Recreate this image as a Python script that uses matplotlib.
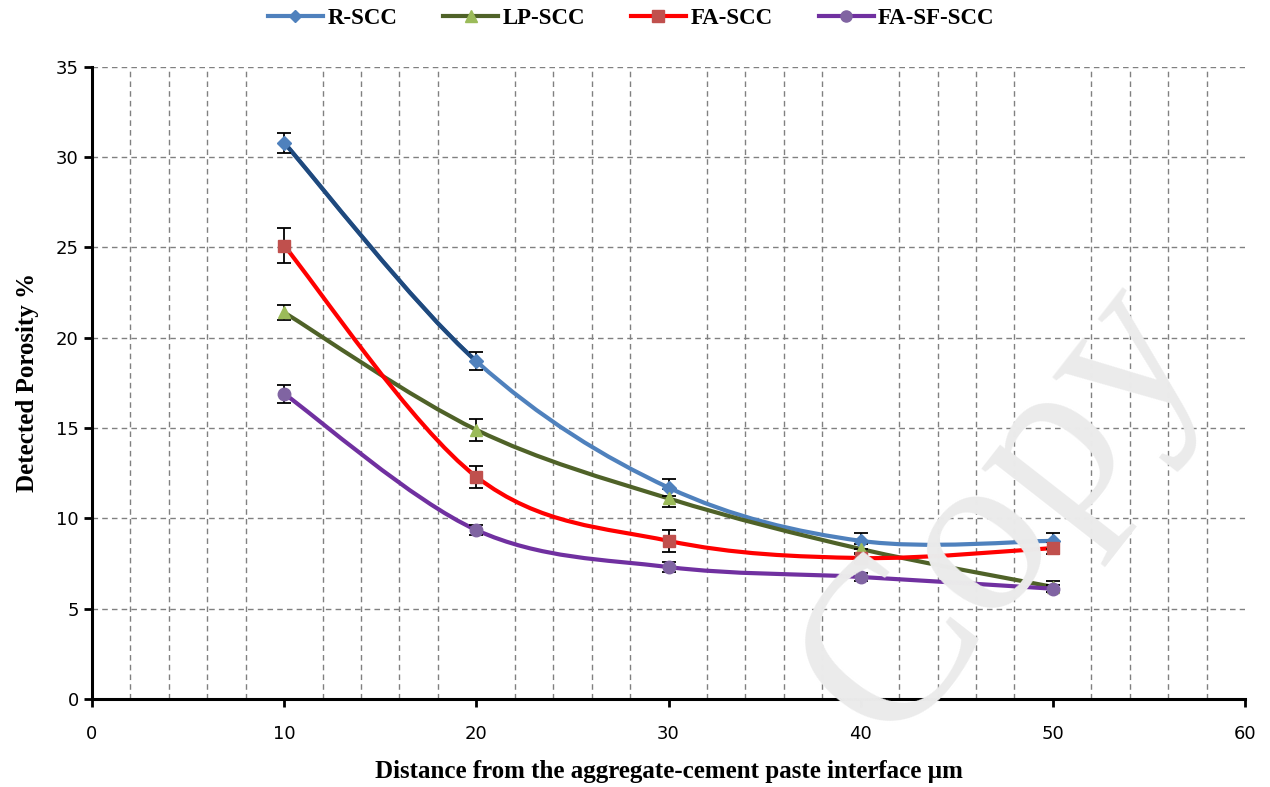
import numpy as np
import matplotlib.pyplot as plt
from matplotlib.path import Path
from matplotlib.patches import PathPatch
from matplotlib.lines import Line2D

# Data
dist = [10, 20, 30, 40, 50]
r_scc = [30.8, 18.7, 11.7, 8.75, 8.75]
r_err = [0.55, 0.5, 0.45, 0.45, 0.45]
lp_scc = [21.4, 14.9, 11.1, 8.3, 6.2]
lp_err = [0.4, 0.6, 0.5, 0.3, 0.3]
fa_scc = [25.1, 12.3, 8.75, 7.8, 8.35]
fa_err = [0.95, 0.6, 0.6, 0.3, 0.35]
fasf_scc = [16.9, 9.35, 7.3, 6.75, 6.1]
fasf_err = [0.5, 0.3, 0.3, 0.2, 0.2]

labels = ['R-SCC', 'LP-SCC', 'FA-SCC', 'FA-SF-SCC']


def smooth_path(x, y):
    # excel-like smoothed line: cubic bezier, catmull-rom control points
    x = np.asarray(x, float)
    y = np.asarray(y, float)
    verts = [(x[0], y[0])]
    codes = [Path.MOVETO]
    n = len(x)
    for i in range(n - 1):
        p0 = np.array([x[max(i - 1, 0)], y[max(i - 1, 0)]])
        p1 = np.array([x[i], y[i]])
        p2 = np.array([x[i + 1], y[i + 1]])
        p3 = np.array([x[min(i + 2, n - 1)], y[min(i + 2, n - 1)]])
        c1 = p1 + (p2 - p0) / 6.0
        c2 = p2 - (p3 - p1) / 6.0
        verts += [tuple(c1), tuple(c2), tuple(p2)]
        codes += [Path.CURVE4] * 3
    return Path(verts, codes)


fig = plt.figure(figsize=(12.7, 7.87), dpi=100)
ax = fig.add_axes([0.0724, 0.112, 0.908, 0.803])

# watermark
fig.text(0.79, 0.35, 'Copy', fontsize=170, family='Liberation Serif',
         color='#ebebeb', rotation=52, ha='center', va='center', zorder=0)
ax.set_facecolor('none')

series = [
    (r_scc, r_err, '#4F81BD', '#4F81BD', 'D', 7),
    (lp_scc, lp_err, '#4F6228', '#9BBB59', '^', 9),
    (fa_scc, fa_err, '#FF0000', '#C0504D', 's', 9),
    (fasf_scc, fasf_err, '#7030A0', '#8064A2', 'o', 9),
]

handles = []
for (vals, err, lc, mc, mk, ms), lab in zip(series, labels):
    p = PathPatch(smooth_path(dist, vals), facecolor='none', edgecolor=lc,
                  lw=3, zorder=3)
    ax.add_patch(p)
    ax.errorbar(dist, vals, yerr=err, fmt='none', ecolor='black',
                elinewidth=1.3, capsize=5, capthick=1.3, zorder=4)
    ax.plot(dist, vals, ls='none', marker=mk, ms=ms, color=mc, zorder=5)
    handles.append(Line2D([], [], color=lc, lw=3, marker=mk, ms=ms - 1,
                          markerfacecolor=mc, markeredgecolor=mc))

# darker first segment of R-SCC
seg = smooth_path(dist[:3], r_scc[:3])
ax.add_patch(PathPatch(Path(seg.vertices[:4], seg.codes[:4]), facecolor='none',
                       edgecolor='#1F497D', lw=3, zorder=3))

ax.set_xlim(0, 60)
ax.set_ylim(0, 35)
ax.set_xticks(range(0, 61, 10))
ax.set_yticks(range(0, 36, 5))
ax.set_xticks(range(0, 61, 2), minor=True)
ax.grid(True, which='major', axis='y', ls=(0, (4, 3)), color='#808080', lw=1)
ax.grid(True, which='minor', axis='x', ls=(0, (4, 3)), color='#808080', lw=1)
ax.tick_params(axis='x', which='minor', length=0)
ax.tick_params(axis='both', which='major', direction='out', length=6,
               width=2, labelsize=13)
ax.tick_params(axis='x', pad=13)
for s in ['top', 'right']:
    ax.spines[s].set_visible(False)
for s in ['left', 'bottom']:
    ax.spines[s].set_linewidth(2.2)
ax.set_axisbelow(True)

ax.set_xlabel('Distance from the aggregate-cement paste interface \u00b5m',
              family='Liberation Serif', fontweight='bold', fontsize=18, labelpad=12)
ax.set_ylabel('Detected Porosity %', family='Liberation Serif',
              fontweight='bold', fontsize=18, labelpad=12)

fig.legend(handles, labels, loc='center', bbox_to_anchor=(0.497, 0.976),
           ncol=4, frameon=False, prop={'family': 'Liberation Serif',
                                        'weight': 'bold', 'size': 16.5},
           handlelength=2.4, columnspacing=2.0, handletextpad=0.2)

fig.savefig('out.png', dpi=100)
